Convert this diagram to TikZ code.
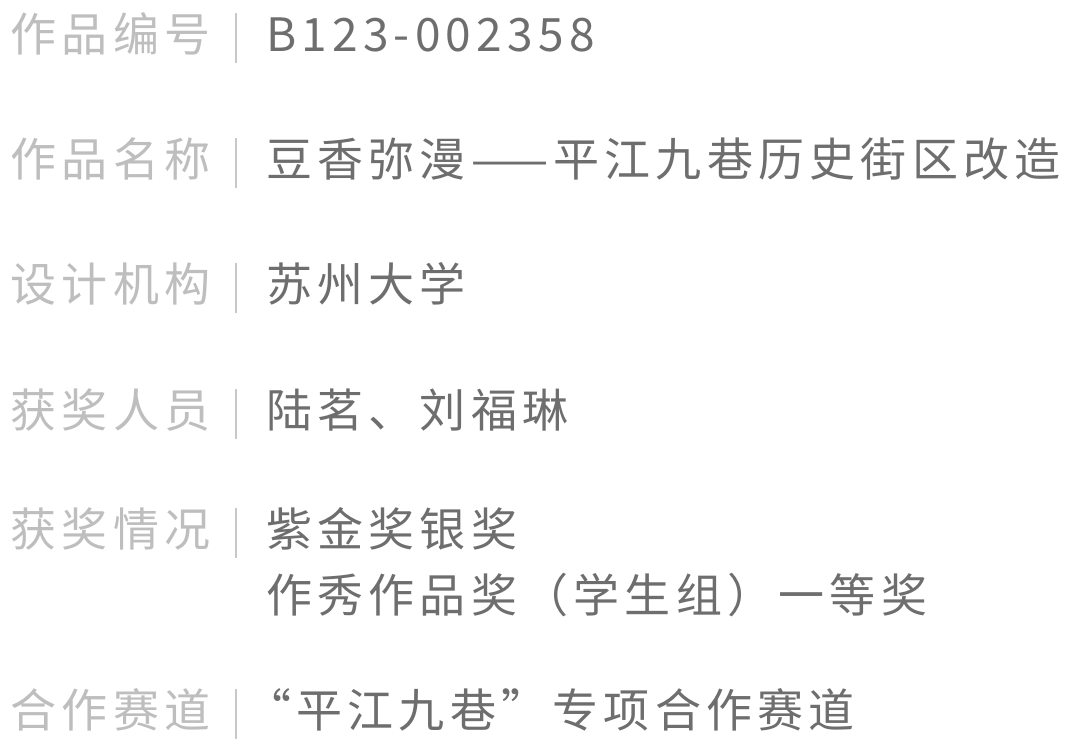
\documentclass[tikz,border=0pt]{standalone}
\usepackage{fontspec}
\newfontfamily\cjklab{Noto Sans CJK SC}[LetterSpace=11.8]
\newfontfamily\cjkval{Noto Sans CJK SC}[LetterSpace=11.4]
\definecolor{labgray}{HTML}{BEBEBE}
\definecolor{valgray}{HTML}{6E6E6E}
\definecolor{bargray}{HTML}{C8C8C8}
\tikzset{
  lab/.style={anchor=base west, inner sep=0pt, text=labgray, font=\cjklab\fontsize{46}{46}\selectfont},
  val/.style={anchor=base west, inner sep=0pt, text=valgray, font=\cjkval\fontsize{46}{46}\selectfont},
  sepbar/.style={draw=bargray, line width=2.5pt}
}
\begin{document}
\begin{tikzpicture}[x=1pt,y=-1pt]
\useasboundingbox[fill=white] (0,0) rectangle (1080,750);
% separator bars, one per row (row centre y)
\foreach \c in {33.5,159,284,410,529,710}{
  \draw[sepbar] (236,\c-21) -- (236,\c+29);
}
\node[lab] (l1) at (10,51) {作品编号};
\node[val] (v1) at (266,51) {B123-002358};
\node[lab] (l2) at (10,176.5) {作品名称};
\node[val] (v2) at (266,176.5) {豆香弥漫——平江九巷历史街区改造};
\node[lab] (l3) at (10,301.5) {设计机构};
\node[val] (v3) at (266,301.5) {苏州大学};
\node[lab] (l4) at (10,427.5) {获奖人员};
\node[val] (v4) at (266,427.5) {陆茗、刘福琳};
\node[lab] (l5) at (10,546.5) {获奖情况};
\node[val] (v5) at (266,546.5) {紫金奖银奖};
\node[val] (v5b) at (266,612) {作秀作品奖（学生组）一等奖};
\node[lab] (l6) at (10,727.5) {合作赛道};
\node[val] (v6) at (266,727.5) {\hspace*{-21pt}“平江九巷”专项合作赛道};
\end{tikzpicture}
\end{document}
